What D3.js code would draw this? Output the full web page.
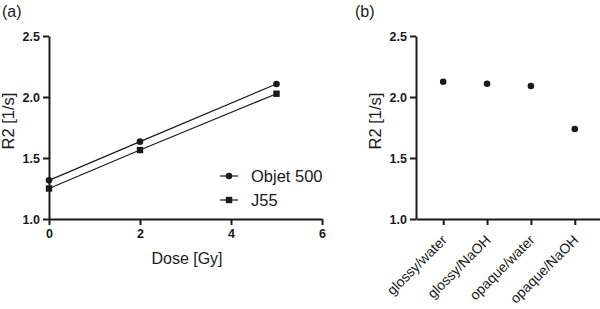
<!DOCTYPE html>
<html>
<head>
<meta charset="utf-8">
<script src="https://cdn.jsdelivr.net/npm/d3@7"></script>
<style>
body { margin: 0; background: #fff; }
text { font-family: "Liberation Sans", Arial, sans-serif; }
</style>
</head>
<body>
<svg width="600" height="309"></svg>
<script>
// panel (a) data
var doses = [0, 2, 5];
var objet500 = [1.317, 1.634, 2.107];
var j55 = [1.25, 1.565, 2.027];
var seriesNames = ["Objet 500", "J55"];
var xTicksA = [0, 2, 4, 6];
var yTicks = [1.0, 1.5, 2.0, 2.5];

// panel (b) data
var groups = ["glossy/water", "glossy/NaOH", "opaque/water", "opaque/NaOH"];
var groupValues = [2.125, 2.109, 2.09, 1.738];

var svg = d3.select("svg");
var ink = "#1a1a1a";

function styleAxis(g) {
    g.selectAll("path").attr("stroke", ink).attr("stroke-width", 2);
    g.selectAll("line").attr("stroke", ink).attr("stroke-width", 2);
    g.selectAll("text")
        .attr("fill", ink)
        .style("font-size", "12.5px")
        .style("font-weight", "bold");
}

// ---------- panel (a) ----------
var xA = d3.scaleLinear().domain([0, 6]).range([49, 322]);
var yA = d3.scaleLinear().domain([1.0, 2.5]).range([219, 36]);

svg.append("text").attr("x", 2).attr("y", 17).text("(a)")
    .style("font-size", "16px").attr("fill", ink);

var gxA = svg.append("g").attr("transform", "translate(0,219)")
    .call(d3.axisBottom(xA).tickValues(xTicksA).tickFormat(d3.format("d")).tickSize(6).tickSizeOuter(0).tickPadding(4));
styleAxis(gxA);
var gyA = svg.append("g").attr("transform", "translate(49,0)")
    .call(d3.axisLeft(yA).tickValues(yTicks).tickFormat(d3.format(".1f")).tickSize(6).tickSizeOuter(0).tickPadding(3));
styleAxis(gyA);

svg.append("text").attr("x", 187).attr("y", 264).attr("text-anchor", "middle")
    .text("Dose [Gy]").style("font-size", "16px").attr("fill", ink);
svg.append("text").attr("transform", "translate(14,121) rotate(-90)").attr("text-anchor", "middle")
    .text("R2 [1/s]").style("font-size", "16.5px").attr("fill", ink);

var line = d3.line().x(function (d) { return xA(d[0]); }).y(function (d) { return yA(d[1]); });
[objet500, j55].forEach(function (vals, s) {
    var pts = doses.map(function (d, i) { return [d, vals[i]]; });
    svg.append("path").attr("d", line(pts)).attr("fill", "none")
        .attr("stroke", ink).attr("stroke-width", 1.2);
    pts.forEach(function (p) {
        if (s === 0) {
            svg.append("circle").attr("cx", xA(p[0])).attr("cy", yA(p[1])).attr("r", 3.3).attr("fill", ink);
        } else {
            svg.append("rect").attr("x", xA(p[0]) - 3.2).attr("y", yA(p[1]) - 3.2)
                .attr("width", 6.4).attr("height", 6.4).attr("fill", ink);
        }
    });
});

// legend
seriesNames.forEach(function (name, i) {
    var ly = 176 + i * 24;
    svg.append("line").attr("x1", 220).attr("x2", 238).attr("y1", ly).attr("y2", ly)
        .attr("stroke", ink).attr("stroke-width", 1.2);
    if (i === 0) {
        svg.append("circle").attr("cx", 229).attr("cy", ly).attr("r", 3.3).attr("fill", ink);
    } else {
        svg.append("rect").attr("x", 225.8).attr("y", ly - 3.2).attr("width", 6.4).attr("height", 6.4).attr("fill", ink);
    }
    svg.append("text").attr("x", 251).attr("y", ly + 6).text(name)
        .style("font-size", "16.5px").attr("fill", ink);
});

// ---------- panel (b) ----------
var xB = d3.scalePoint().domain(groups).range([416, 602]).padding(0.62);
var yB = d3.scaleLinear().domain([1.0, 2.5]).range([219, 36]);

svg.append("text").attr("x", 355).attr("y", 17).text("(b)")
    .style("font-size", "16px").attr("fill", ink);

var gxB = svg.append("g").attr("transform", "translate(0,219)")
    .call(d3.axisBottom(xB).tickSize(6).tickSizeOuter(0).tickPadding(4));
styleAxis(gxB);
gxB.selectAll("text")
    .style("font-weight", "normal").style("font-size", "14px")
    .attr("text-anchor", "end")
    .attr("x", 0).attr("y", 0).attr("dy", 0)
    .attr("transform", "translate(4,22) rotate(-45)");
var gyB = svg.append("g").attr("transform", "translate(416,0)")
    .call(d3.axisLeft(yB).tickValues(yTicks).tickFormat(d3.format(".1f")).tickSize(6).tickSizeOuter(0).tickPadding(3));
styleAxis(gyB);

svg.append("text").attr("transform", "translate(381,121) rotate(-90)").attr("text-anchor", "middle")
    .text("R2 [1/s]").style("font-size", "16.5px").attr("fill", ink);

svg.selectAll(".pt").data(groups).enter().append("circle")
    .attr("class", "pt")
    .attr("cx", function (d) { return xB(d); })
    .attr("cy", function (d, i) { return yB(groupValues[i]); })
    .attr("r", 3.3).attr("fill", ink);
</script>
</body>
</html>
